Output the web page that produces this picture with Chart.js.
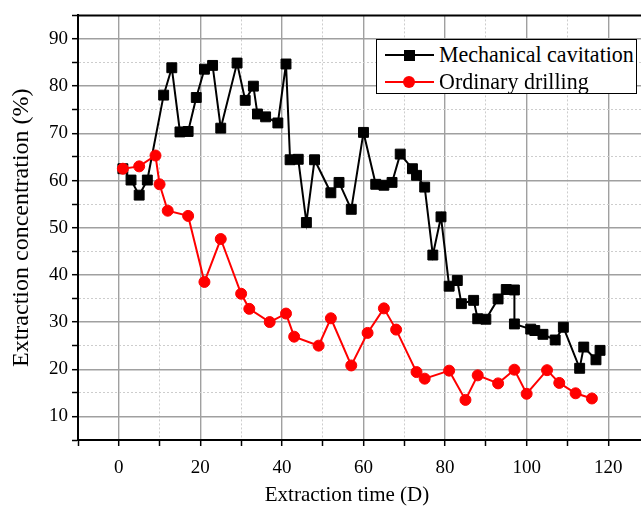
<!DOCTYPE html>
<html>
<head>
<title>Extraction concentration</title>
<style>
body { margin: 0; overflow: hidden; background: #fff; }
#wrap { position: relative; width: 660px; height: 506px; }
.legend
{
   position: absolute; left: 376px; top: 39px; width: 259px; height: 53px;
   border: 1px solid #000; background: #fff;
   font-family: "Liberation Serif", serif; font-size: 22px; color: #000;
}
.row { position: absolute; left: 0; width: 100%; height: 26px; }
.row .ln { position: absolute; left: 8px; width: 49px; top: 12px; height: 2px; }
.row .mk { position: absolute; }
.row .tx { position: absolute; left: 62px; top: 0; line-height: 26px; white-space: nowrap;
           transform: scaleY(1.08); transform-origin: 0 55%; }
.xtitle
{
   position: absolute; left: 247px; width: 200px; top: 482px; text-align: center;
   font-family: "Liberation Serif", serif; font-size: 21px; line-height: 24px; color: #000;
}
</style>
<script src="https://cdn.jsdelivr.net/npm/chart.js"></script>
</head>
<body>
<div id="wrap">
  <canvas id="chartDiv" width="660" height="506"></canvas>
  <div class="legend">
    <div class="row" style="top:2px">
      <span class="ln" style="background:#000"></span>
      <span class="mk" style="left:27px;top:8px;width:11px;height:11px;background:#000"></span>
      <span class="tx">Mechanical cavitation</span>
    </div>
    <div class="row" style="top:29px">
      <span class="ln" style="background:#f00"></span>
      <span class="mk" style="left:26px;top:7px;width:12px;height:12px;border-radius:50%;background:#f00"></span>
      <span class="tx">Ordinary drilling</span>
    </div>
  </div>
  <div class="xtitle">Extraction time (D)</div>
</div>

<script>
// data
var mechDays   = [1,3,5,7,11,13,15,17,19,21,23,25,29,31,33,34,36,39,41,42,44,46,48,52,54,57,60,63,65,67,69,72,73,75,77,79,81,83,84,87,88,90,93,95,97,97,101,102,104,107,109,113,114,117,118];
var mechValues = [62.5,60.1,56.9,60.1,78.1,83.9,70.3,70.4,77.6,83.6,84.4,71.1,84.9,77.0,80.0,74.1,73.5,72.2,84.7,64.4,64.5,51.1,64.4,57.4,59.6,53.9,70.2,59.2,59.0,59.6,65.6,62.5,61.1,58.6,44.2,52.3,37.6,38.8,33.9,34.6,30.7,30.6,34.9,36.9,36.8,29.6,28.5,28.2,27.4,26.2,28.9,20.2,24.7,22.0,24.0];

var drillDays   = [1,5,9,10,12,17,21,25,30,32,37,41,43,49,52,57,61,65,68,73,75,81,85,88,93,97,100,105,108,112,116];
var drillValues = [62.5,63.0,65.3,59.2,53.6,52.5,38.5,47.6,36.0,32.8,30.0,31.8,26.9,25.0,30.8,20.8,27.7,32.9,28.4,19.4,18.0,19.7,13.5,18.7,17.0,19.9,14.8,19.8,17.1,14.9,13.8];

var xLabels = [0,20,40,60,80,100,120];
var yLabels = [10,20,30,40,50,60,70,80,90];

function toPoints(xs, ys) {
  return xs.map(function (x, i) { return {x: x, y: ys[i]}; });
}

var serif = "'Liberation Serif', 'Times New Roman', serif";

function isMajor(ctx, step) {
  return ctx.tick && ctx.tick.value % step === 0;
}

// thick line along the top of the plot frame
var topFrame = {
  id: 'topFrame',
  afterDraw: function (chart) {
    var a = chart.chartArea, c = chart.ctx;
    c.save();
    c.strokeStyle = '#000';
    c.lineWidth = 2;
    c.beginPath();
    c.moveTo(a.left - 1, a.top);
    c.lineTo(a.right, a.top);
    c.stroke();
    c.restore();
  }
};

new Chart("chartDiv", {
  type: "line",
  data: {
    datasets: [{
      label: "Mechanical cavitation",
      data: toPoints(mechDays, mechValues),
      borderColor: "#000",
      backgroundColor: "#000",
      borderWidth: 2,
      pointStyle: "rect",
      pointRadius: 7,
      pointBorderWidth: 1,
      tension: 0,
      order: 1
    }, {
      label: "Ordinary drilling",
      data: toPoints(drillDays, drillValues),
      borderColor: "#f00",
      backgroundColor: "#f00",
      borderWidth: 2,
      pointStyle: "circle",
      pointRadius: 5.5,
      pointBorderWidth: 1,
      tension: 0,
      order: 0
    }]
  },
  options: {
    responsive: false,
    animation: false,
    events: [],
    layout: {padding: {top: 13, right: 10, left: 0, bottom: 0}},
    plugins: {legend: {display: false}, tooltip: {enabled: false}},
    scales: {
      x: {
        type: "linear", min: -10, max: 130,
        afterFit: function (s) { s.height = 66; },
        ticks: {
          stepSize: 10, autoSkip: false, maxRotation: 0, padding: 11, color: "#000",
          font: {family: serif, size: 19},
          callback: function (v) { return xLabels.indexOf(v) >= 0 ? String(v) : ''; }
        },
        grid: {
          color: function (c) { return isMajor(c, 20) ? '#a0a0a0' : '#cdcdcd'; },
          lineWidth: function (c) { return isMajor(c, 20) ? 1.4 : 1; },
          tickColor: "#000", tickLength: 6, tickWidth: 1.5
        },
        border: {
          color: "#000", width: 2,
          dash: function (c) { return c.tick && !isMajor(c, 20) ? [2, 2] : []; }
        },
        title: {display: false}
      },
      y: {
        min: 5, max: 95,
        afterFit: function (s) { s.width = 78; },
        ticks: {
          stepSize: 5, autoSkip: false, padding: 4, color: "#000",
          font: {family: serif, size: 19},
          callback: function (v) { return yLabels.indexOf(v) >= 0 ? String(v) : ''; }
        },
        grid: {
          color: function (c) { return isMajor(c, 10) ? '#a0a0a0' : '#cdcdcd'; },
          lineWidth: function (c) { return isMajor(c, 10) ? 1.4 : 1; },
          tickColor: "#000", tickLength: 6, tickWidth: 1.5
        },
        border: {
          color: "#000", width: 2,
          dash: function (c) { return c.tick && !isMajor(c, 10) ? [2, 2] : []; }
        },
        title: {
          display: true, text: "Extraction concentration (%)", color: "#000",
          font: {family: serif, size: 24}, padding: {top: 7, bottom: 0}
        }
      }
    }
  },
  plugins: [topFrame]
});
</script>
</body>
</html>
